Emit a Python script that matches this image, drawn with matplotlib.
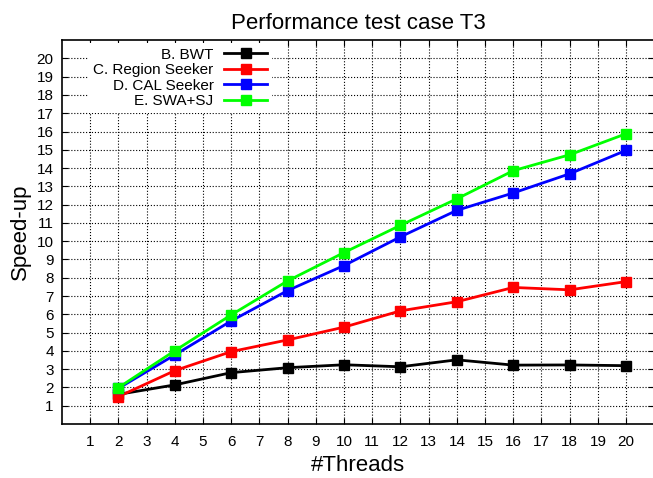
import matplotlib.pyplot as plt

plt.rcParams['font.family'] = ['Liberation Sans', 'DejaVu Sans']

threads = [2, 4, 6, 8, 10, 12, 14, 16, 18, 20]
bwt = [1.62, 2.14, 2.81, 3.08, 3.24, 3.13, 3.51, 3.22, 3.23, 3.19]
region_seeker = [1.5, 2.92, 3.96, 4.6, 5.3, 6.19, 6.69, 7.47, 7.34, 7.79]
cal_seeker = [1.95, 3.78, 5.64, 7.3, 8.67, 10.24, 11.69, 12.64, 13.69, 14.97]
swa_sj = [1.99, 4.01, 5.97, 7.83, 9.38, 10.87, 12.32, 13.86, 14.73, 15.88]

series = [
    ("B. BWT", bwt, "#000000"),
    ("C. Region Seeker", region_seeker, "#ff0000"),
    ("D. CAL Seeker", cal_seeker, "#0000ff"),
    ("E. SWA+SJ", swa_sj, "#00ff00"),
]

fig = plt.figure(figsize=(6.53, 4.78), dpi=100)
ax = fig.add_axes([0.095, 0.113, 0.907, 0.803])

for name, vals, col in series:
    ax.plot(threads, vals, color=col, lw=2, marker='s', ms=7, label=name)

ax.set_xlim(0, 21)
ax.set_ylim(0, 21)
ax.set_xticks(range(1, 21))
ax.set_yticks(range(1, 21))
ax.tick_params(direction='in', top=True, right=True, length=4, labelsize=11)
ax.tick_params(axis='x', pad=8)
ax.tick_params(axis='y', pad=6)
ax.grid(True, color='black', ls=':', lw=0.8)
ax.set_axisbelow(True)
for s in ax.spines.values():
    s.set_linewidth(1.2)

ax.set_title("Performance test case T3", fontsize=16, pad=8)
ax.set_xlabel("#Threads", fontsize=16, labelpad=4)
ax.set_ylabel("Speed-up", fontsize=16, labelpad=4)

leg = ax.legend(loc='upper left', bbox_to_anchor=(0.04, 1.0), markerfirst=False,
                frameon=True, fancybox=False, edgecolor='none', framealpha=1,
                fontsize=11, handlelength=2.8, labelspacing=0.1,
                borderpad=0.3, handletextpad=0.7, borderaxespad=0.2)
for t in leg.get_texts():
    t.set_ha('right')
leg._legend_box.align = 'right'

fig.savefig("out.png", dpi=100)
